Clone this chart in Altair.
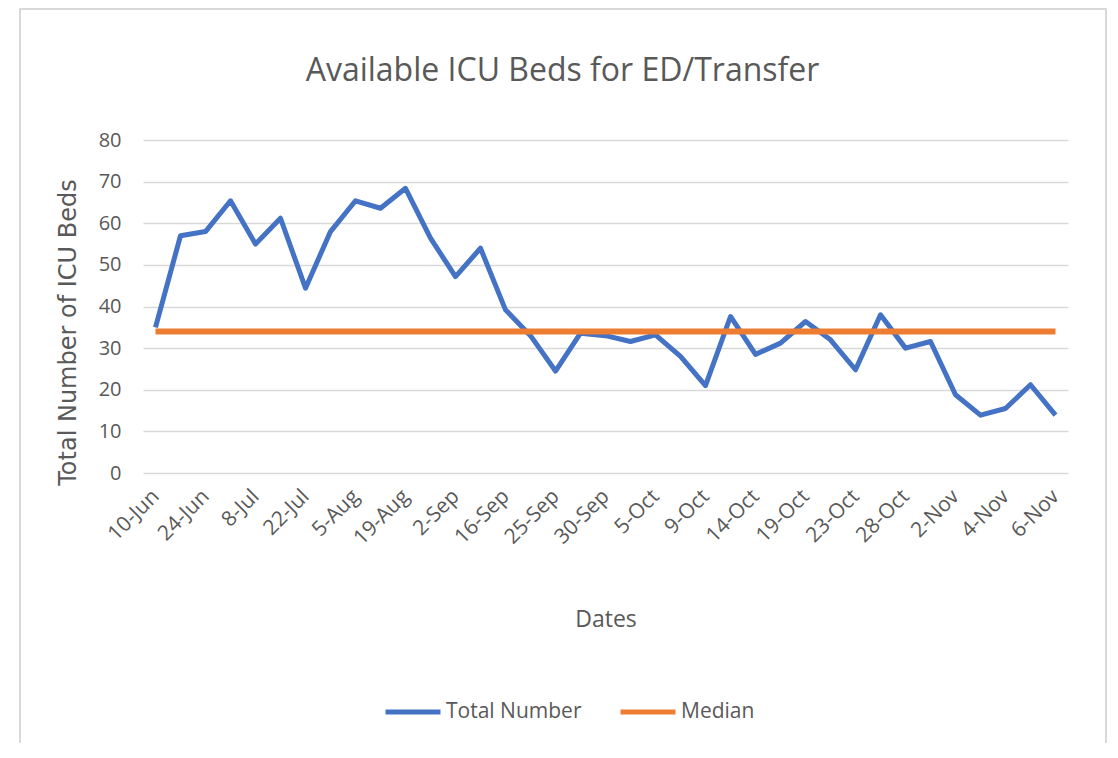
import json
import altair as alt
import pandas as pd

# ---------------- data ----------------
title_text = "Available ICU Beds for ED/Transfer"
x_title = "Dates"
y_title = "Total Number of ICU Beds"
series_names = ["Total Number", "Median"]
series_colors = ["#4472C4", "#ED7D31"]

# every second category is labelled on the axis
tick_labels = ["10-Jun", "24-Jun", "8-Jul", "22-Jul", "5-Aug", "19-Aug", "2-Sep",
               "16-Sep", "25-Sep", "30-Sep", "5-Oct", "9-Oct", "14-Oct", "19-Oct",
               "23-Oct", "28-Oct", "2-Nov", "4-Nov", "6-Nov"]
label_positions = [0, 2, 4, 6, 8, 10, 12, 14, 16, 18, 20, 22, 24, 26, 28, 30, 32, 34, 36]

total_number = [35, 57, 58, 65.4, 55, 61.2, 44.4, 58, 65.4, 63.6, 68.4, 56.4, 47.2,
                54, 39.2, 33, 24.5, 33.6, 33, 31.6, 33.2, 28, 21, 37.6, 28.5, 31.2,
                36.4, 32, 24.8, 38, 30, 31.6, 18.8, 13.9, 15.5, 21.2, 13.9]
median_value = 34
y_ticks = [0, 10, 20, 30, 40, 50, 60, 70, 80]

# ---------------- table ----------------
n = len(total_number)
total_df = pd.DataFrame({"idx": list(range(n)), "value": total_number,
                         "series": series_names[0]})
median_df = pd.DataFrame({"idx": [0, n - 1], "value": [median_value, median_value],
                          "series": series_names[1]})

label_expr = json.dumps(tick_labels) + "[round(datum.value / 2)]"

TEXT = "#595959"
GRID = "#D9D9D9"

x_enc = alt.X("idx:Q",
              scale=alt.Scale(domain=[-0.5, n - 0.5], nice=False, zero=False),
              axis=alt.Axis(values=label_positions, labelExpr=label_expr,
                            labelAngle=-45, labelAlign="right", labelBaseline="middle",
                            labelPadding=20, labelFont="Open Sans", labelFontSize=21,
                            labelColor=TEXT, ticks=False, domain=False, grid=False,
                            labelOverlap=False, labelFlush=False,
                            title=x_title, titleFont="Open Sans", titleFontSize=23,
                            titleFontWeight="normal", titleColor=TEXT,
                            titleY=146, titleBaseline="middle"))
y_enc = alt.Y("value:Q",
              scale=alt.Scale(domain=[0, 80], nice=False),
              axis=alt.Axis(values=y_ticks, labelFont="Open Sans", labelFontSize=20,
                            labelColor=TEXT, labelPadding=22, ticks=False, domain=False,
                            grid=True, gridColor=GRID, gridWidth=1.6,
                            title=y_title, titleFont="DejaVu Sans", titleFontSize=24,
                            titleFontWeight="normal", titleColor=TEXT, titleAngle=270,
                            titleX=-75, titleY=192, titleAlign="center",
                            titleBaseline="middle"))
color_enc = alt.Color("series:N",
                      scale=alt.Scale(domain=series_names, range=series_colors),
                      legend=alt.Legend(title=None, orient="none", direction="horizontal",
                                        legendX=240, legendY=542,
                                        symbolType="stroke", symbolSize=3025,
                                        symbolStrokeWidth=5, labelFont="Open Sans",
                                        labelFontSize=21, labelColor=TEXT,
                                        labelOffset=3, columnPadding=28))

total_line = alt.Chart(total_df).mark_line(strokeWidth=5, strokeJoin="round").encode(
    x=x_enc, y=y_enc, color=color_enc)
median_line = alt.Chart(median_df).mark_line(strokeWidth=6).encode(
    x=x_enc, y=y_enc, color=color_enc)

frame = alt.Chart(alt.Data(values=[{"f": 1}])).mark_rect(
    fill="transparent", stroke=GRID, strokeWidth=2).encode(
    x=alt.value(-123), x2=alt.value(963), y=alt.value(-131), y2=alt.value(640))

chart = alt.layer(frame, total_line, median_line).properties(
    width=925, height=333,
    autosize=alt.AutoSizeParams(type="none"),
    padding={"left": 135, "top": 132, "right": 42, "bottom": 270},
    title=alt.TitleParams(title_text, font="Open Sans", fontSize=32,
                          fontWeight="normal", color=TEXT, anchor="middle",
                          frame="group", dx=-43, offset=-80),
).configure_view(stroke=None)

chart.save("out.html", embed_options={"renderer": "svg", "actions": False})
